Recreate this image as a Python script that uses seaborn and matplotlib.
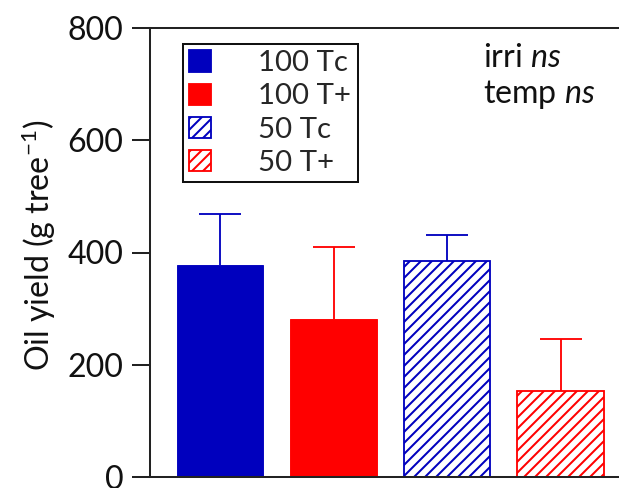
import matplotlib
matplotlib.use("Agg")
import matplotlib.pyplot as plt
import seaborn as sns
import pandas as pd
import numpy as np
from matplotlib.patches import Patch

# ---- data ----
groups = ["100 Tc", "100 T+", "50 Tc", "50 T+"]
means = [377, 282, 384, 154]
errors = [92, 127, 48, 92]
colors = ["#0000BE", "#FF0000", "#0000BE", "#FF0000"]
hatched = [False, False, True, True]
yticks = [0, 200, 400, 600, 800]

sns.set_theme(style="ticks")
plt.rcParams["font.family"] = ["Lato", "DejaVu Sans"]
plt.rcParams["mathtext.fontset"] = "custom"
plt.rcParams["mathtext.rm"] = "Lato"
plt.rcParams["mathtext.it"] = "Lato:italic"
plt.rcParams["hatch.linewidth"] = 1.1

DPI = 132
fig = plt.figure(figsize=(619 / DPI, 488 / DPI), dpi=DPI)
ax = fig.add_axes([150 / 619, 11 / 488, 490 / 619, 449 / 488])

df = pd.DataFrame({"group": groups, "mean": means})
sns.barplot(data=df, x="group", y="mean", hue="group", order=groups,
            hue_order=groups, palette=colors, width=0.76, legend=False,
            errorbar=None, ax=ax, saturation=1)

for patch, c, h in zip(ax.patches, colors, hatched):
    if h:
        patch.set_facecolor("white")
        patch.set_edgecolor(c)
        patch.set_hatch("////")
        patch.set_linewidth(1.0)
    else:
        patch.set_facecolor(c)
        patch.set_edgecolor(c)
        patch.set_linewidth(0.5)

for i, (m, e, c) in enumerate(zip(means, errors, colors)):
    _, caps, _ = ax.errorbar(i, m, yerr=[[0], [e]], fmt="none", ecolor=c,
                             elinewidth=1.0, capsize=11.7, capthick=1.0,
                             zorder=1)
    if len(caps) == 2:
        caps[0].set_visible(False)

ax.set_xlim(-0.617, 3.70)
ax.set_ylim(0, 800)
ax.set_yticks(yticks)
ax.set_yticklabels([str(t) for t in yticks], fontsize=17.5)
ax.set_xticks([])
ax.set_xlabel("")
ax.tick_params(axis="y", length=10, width=1.1, pad=4.4, color="#222222",
               labelcolor="#111111", direction="out")
for s in ["left", "bottom", "top", "right"]:
    ax.spines[s].set_linewidth(1.1)
    ax.spines[s].set_color("#222222")

ax.set_ylabel("Oil yield (g tree$^{-1}$)", fontsize=17.5, va="center",
              color="#111111")
ax.yaxis.set_label_coords(39 / 619, 0.497, transform=fig.transFigure)

handles = [Patch(facecolor=("white" if h else c), edgecolor=c,
                 hatch=("////" if h else None), linewidth=1.0)
           for c, h in zip(colors, hatched)]
leg = ax.legend(handles, groups, loc="upper left",
                bbox_to_anchor=(183 / 619, 1 - 44 / 488),
                bbox_transform=fig.transFigure, fontsize=16,
                frameon=True, fancybox=False, shadow=False,
                handlelength=0.75, handleheight=0.75, handletextpad=1.6,
                labelspacing=0.24, borderpad=0.22, borderaxespad=0)
leg.get_frame().set_edgecolor("#111111")
leg.get_frame().set_linewidth(1.1)
leg.get_frame().set_alpha(1)

fig.text(483 / 619, 1 - 67 / 488, r"irri $\it{ns}$", fontsize=17.5,
         ha="left", va="baseline", color="#111111")
fig.text(483 / 619, 1 - 103 / 488, r"temp $\it{ns}$", fontsize=17.5,
         ha="left", va="baseline", color="#111111")

fig.savefig("out.png", dpi=DPI)
